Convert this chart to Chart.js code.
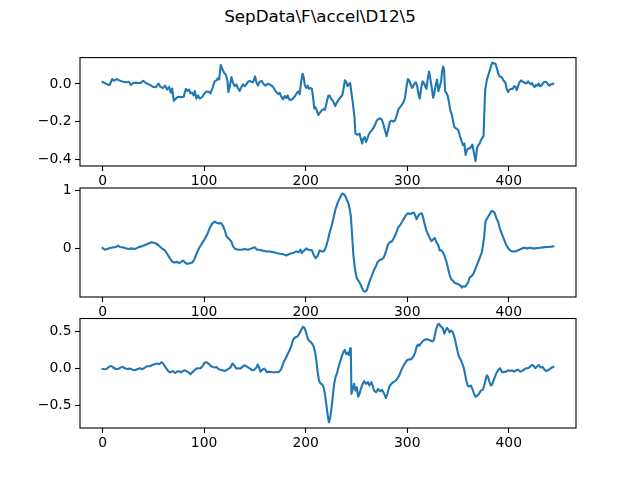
<!DOCTYPE html>
<html>
<head>
<meta charset="utf-8">
<script src="https://cdn.jsdelivr.net/npm/chart.js@4/dist/chart.umd.min.js"></script>
<style>
  body { margin: 0; background: #fff; }
  #wrap { position: relative; width: 640px; height: 480px; overflow: hidden; }
  #title {
    position: absolute; left: 0; top: 7px; width: 640px; text-align: center;
    font-family: 'DejaVu Sans', sans-serif; font-size: 16.7px; line-height: 19.4px; color: #000;
  }
  canvas { position: absolute; left: 0; }
</style>
</head>
<body>
<div id="wrap">
  <div id="title">SepData\F\accel\D12\5</div>
  <canvas id="c1" width="640" height="138" style="top:50px"></canvas>
  <canvas id="c2" width="640" height="139" style="top:180px"></canvas>
  <canvas id="c3" width="640" height="139" style="top:311px"></canvas>
</div>
<script>
// sample index / value pairs
const t1 = [0, 5.6, 7.2, 9.5, 11.5, 13.8, 16.4, 20.3, 23.6, 25.9, 27.9, 30.2, 32.8, 35.4, 37.4, 40, 42.6, 46.6, 49.8, 52.5,
  55.1, 57, 59.7, 61.6, 63.6, 65.6, 67.2, 68.5, 70.2, 72.1, 74.4, 77.7, 80, 82, 83.6, 85.2, 86.6, 88.2, 89.8, 90.8,
  92.5, 94.1, 95.7, 98.4, 100, 102.3, 104.9, 106.2, 108.2, 110.2, 112.1, 113.4, 114.8, 116.4, 118, 120, 121.3, 123, 123.9, 125.2,
  126.9, 128.5, 130.2, 131.8, 133.4, 135.1, 136.7, 138.4, 140, 141.6, 143.3, 144.9, 146.6, 148.2, 150.2, 151.5, 153.1, 154.8, 156.7, 158.7,
  160.7, 163, 165.2, 167.9, 169.8, 171.8, 173.1, 174.4, 175.7, 177.7, 179.3, 181, 182.3, 183.6, 185.6, 187.5, 189.5, 191.5, 192.8, 194.1,
  195.4, 197, 198, 199.3, 200.7, 202, 203.3,
  204.6, 206.2, 207.9, 208.5, 209.8, 211.1, 212.4, 213.8, 215.7, 217.7, 219, 220.3, 222.2, 223.6, 224.9, 226.8, 229.1, 230.7, 232.7, 234.7,
  236, 237.3, 238.6, 239.9, 241.2, 242.5, 243.8, 245.1, 246.4, 248.1, 249, 251, 253, 254.3, 255.6, 256.9, 258.2, 259.5, 260.8, 262.1,
  263.4, 265.1, 266.7, 268.3, 270, 271.6, 273.2, 274.9, 276.5, 278.1, 279.8, 281.4, 283, 284.7, 286.3, 287.9, 289.6, 291.2, 292.8, 294.5,
  296.1, 297.7, 299.4, 300.7, 302, 303.3, 304.9, 306.6, 308.5, 309.8, 311.5, 312.4, 313.8, 315.1, 316.4, 317.7, 319, 320.3, 321.6, 322.9,
  324.2, 325.5, 326.5, 327.8, 329.4, 330.7, 332.1, 333.4, 334.3, 335.3, 336.3, 337.3, 338.6, 339.9, 341.2, 342.5, 343.8, 345.1, 346.4, 347.7,
  349, 350.4, 351.7, 353.3, 354.9, 356.2, 357.5, 358.8, 360.2, 361.5, 362.8, 364.1, 365, 366, 367.3, 368.7, 370, 371.3, 372.6, 373.9,
  375.2, 375.8, 376.8, 378.5, 380.4, 382.4, 383.7, 385.3, 387, 388.3, 389.6, 390.9, 392.8, 394.8, 396.8, 398.1, 399.4, 400.7, 402.3, 403.9,
  405.3, 406.6, 407.9, 409.2, 410.5, 412.4, 413.7, 415, 416.4, 417.7, 419, 420.3, 421.6, 422.9, 424.2, 425.5, 426.8, 428.1, 429.4, 430.7,
  432.1, 433.4, 434.7, 436, 437.3, 438.6, 439.9, 441.2, 442.5, 443.8];
const v1 = [0.010, -0.005, -0.003, 0.026, 0.017, 0.026, 0.019, 0.012, 0.009, 0.012, -0.005, 0.005, 0.007, 0.005, 0.005, 0.017, 0.005, -0.005, -0.016, -0.017,
  0.002, -0.016, -0.021, -0.009, -0.030, -0.016, -0.047, -0.024, -0.090, -0.078, -0.068, -0.070, -0.068, -0.026, -0.037, -0.030, -0.050, -0.047, -0.061, -0.038,
  -0.078, -0.061, -0.078, -0.068, -0.052, -0.040, -0.042, -0.050, -0.023, 0.012, 0.019, 0.030, 0.023, 0.101, 0.078, 0.057, 0.050, 0.016, -0.043, -0.016,
  0.037, 0.005, -0.012, -0.003, -0.023, -0.037, -0.016, -0.002, -0.012, -0.002, 0.012, 0.016, 0.012, 0.009, 0.040, 0.009, -0.009, 0.012, 0.016, -0.002,
  -0.009, 0.002, -0.005, -0.016, -0.033, -0.047, -0.054, -0.047, -0.064, -0.082, -0.064, -0.075, -0.061, -0.082, -0.085, -0.078, -0.064, -0.047, -0.040, -0.054,
  0.005, 0.054, 0.037, -0.009, -0.021, -0.009, -0.026,
  -0.021, -0.026, -0.099, -0.130, -0.125, -0.143, -0.165, -0.155, -0.141, -0.134, -0.137, -0.108, -0.064, -0.061, -0.078, -0.090, -0.117, -0.099, -0.082, -0.068,
  -0.061, -0.026, 0.019, 0.012, -0.012, -0.002, 0.005, -0.047, -0.099, -0.177, -0.264, -0.270, -0.264, -0.290, -0.317, -0.290, -0.282, -0.308, -0.290, -0.270,
  -0.256, -0.247, -0.235, -0.217, -0.195, -0.186, -0.183, -0.190, -0.212, -0.247, -0.277, -0.238, -0.200, -0.195, -0.200, -0.195, -0.169, -0.137, -0.125, -0.113,
  -0.099, -0.078, -0.012, 0.026, 0.019, -0.003, -0.021, -0.003, 0.009, -0.012, -0.064, -0.078, -0.021, 0.014, 0.005, -0.012, -0.026, 0.031, 0.066, 0.023,
  -0.021, -0.073, -0.056, -0.012, 0.023, -0.038, -0.012, 0.014, 0.066, 0.092, 0.075, -0.038, -0.047, -0.064, -0.099, -0.143, -0.160, -0.195, -0.230, -0.235,
  -0.238, -0.247, -0.273, -0.299, -0.325, -0.317, -0.377, -0.351, -0.343, -0.343, -0.334, -0.322, -0.346, -0.374, -0.410, -0.343, -0.325, -0.317, -0.299, -0.287,
  -0.277, -0.169, -0.030, 0.023, 0.057, 0.092, 0.113, 0.110, 0.106, 0.083, 0.057, 0.040, 0.037, 0.019, 0.005, -0.030, -0.043, -0.030, -0.026, -0.026,
  -0.012, -0.016, -0.033, -0.012, 0.009, 0.019, 0.012, 0.009, 0.002, 0.005, 0.014, 0.005, -0.002, 0.005, -0.009, -0.016, -0.005, -0.009, 0.002, -0.012,
  -0.009, 0.002, 0.009, 0.012, 0.009, -0.002, -0.009, -0.002, -0.002, 0.002];

const t2 = [0, 2.3, 4.6, 7.2, 10.5, 13.1, 15.4, 17, 19.7, 22, 25.2, 28.5, 31.8, 35.1, 38.4, 41.6, 44.9, 48.2, 51.5, 54.8,
  58, 61.3, 63.6, 66.2, 68.9, 71.1, 73.4, 75.4, 77.4, 79.3, 81.3, 83.3, 85.9, 88.5, 90.5, 92.5, 95.1, 97.7, 100.3, 103,
  105.6, 108.2, 110.5, 112.1, 114.1, 116.7, 118.7, 120.7, 122, 123.6, 125.2, 126.9, 128.5, 130.5, 133.4, 136.7, 140, 143.3, 146.6, 149.8,
  152.1, 154.8, 158, 161.3, 164.6, 167.9, 171.1, 174.4, 177.7, 181, 184.3, 187.5, 190.8, 192.8, 194.8, 196.1, 198, 200.7, 202.6,
  206.2, 207.9, 209.8, 211.8, 213.8, 215.7, 217.7, 219.6, 221.6, 223.6, 225.5, 227.5, 229.4, 231.4, 234, 236, 237.3, 238.9, 240.5, 241.9,
  243.2, 244.5, 245.8, 247.1, 248.7, 250.4, 252, 253.6, 255.3, 256.9, 258.5, 260.2, 261.8, 263.4, 265.4, 267.3, 269.3, 271.2, 273.2, 275.2,
  277.1, 279.1, 281, 283, 285, 286.9, 288.9, 290.9, 292.8, 294.8, 296.7, 298.7, 300.7, 302.6, 304.6, 306.5, 307.8, 309.2, 310.8, 312.4,
  314.4, 315.7, 317.3, 319, 320.6, 322.2, 323.9, 325.5, 327.1, 328.8, 330.4, 332, 333.7, 335.3, 336.9, 338.6, 340.2, 341.8, 343.5, 345.1,
  346.7, 348.4, 350.4, 352.3, 353.6, 354.9, 356.9, 358.2, 360.2, 361.5, 363.4, 365.4, 367.3, 369.3, 371.3, 373.2, 374.5, 375.8, 377.1, 379.1,
  381.1, 383, 384.3, 386, 387.6, 389.6, 391.5, 393.5, 395.4, 397.4, 399.4, 401.3, 403.3, 405.6, 407.9, 410.5, 413.1, 415.7, 418.3, 421,
  423.6, 426.2, 428.8, 431.4, 434, 436.6, 439.2, 441.9, 443.8];
const v2 = [0, -0.029, -0.018, 0, 0.012, 0.018, 0.041, 0.018, 0.012, 0, -0.018, -0.006, -0.018, 0.012, 0.029, 0.053, 0.076, 0.100, 0.088, 0.053,
  0, -0.041, -0.100, -0.176, -0.241, -0.253, -0.241, -0.265, -0.241, -0.218, -0.253, -0.276, -0.265, -0.253, -0.194, -0.100, 0, 0.076, 0.147, 0.235,
  0.353, 0.429, 0.459, 0.441, 0.429, 0.435, 0.382, 0.294, 0.206, 0.176, 0.147, 0.112, 0.029, -0.012, -0.029, -0.029, -0.018, -0.029, -0.006, 0.012,
  -0.029, -0.029, -0.047, -0.059, -0.059, -0.071, -0.088, -0.100, -0.106, -0.129, -0.100, -0.088, -0.059, -0.076, -0.029, -0.088, -0.053, -0.006, -0.029,
  -0.041, -0.118, -0.176, -0.135, -0.041, -0.059, -0.059, 0, 0.118, 0.265, 0.382, 0.529, 0.676, 0.782, 0.882, 0.950, 0.940, 0.912, 0.841, 0.794,
  0.688, 0.559, 0.206, -0.147, -0.382, -0.529, -0.571, -0.618, -0.688, -0.747, -0.760, -0.735, -0.647, -0.559, -0.471, -0.382, -0.312, -0.235, -0.206, -0.194,
  -0.159, -0.059, 0.059, 0.100, 0.118, 0.176, 0.253, 0.353, 0.394, 0.453, 0.512, 0.571, 0.606, 0.594, 0.606, 0.618, 0.571, 0.500, 0.559, 0.594,
  0.606, 0.529, 0.412, 0.294, 0.235, 0.176, 0.118, 0.147, 0.176, 0.100, 0.059, -0.041, -0.041, -0.076, -0.147, -0.235, -0.353, -0.471, -0.547, -0.571,
  -0.606, -0.618, -0.629, -0.653, -0.688, -0.665, -0.676, -0.647, -0.588, -0.512, -0.488, -0.441, -0.353, -0.265, -0.176, -0.088, 0.029, 0.206, 0.471, 0.529,
  0.588, 0.647, 0.641, 0.618, 0.529, 0.453, 0.324, 0.235, 0.147, 0.059, 0, -0.041, -0.059, -0.059, -0.047, -0.029, -0.006, 0.006, -0.006, 0.006,
  -0.006, -0.006, 0, 0.006, 0.012, 0.018, 0.018, 0.024, 0.029];

const t3 = [0, 2.3, 3.9, 5.6, 7.2, 8.9, 10.5, 13.1, 15.4, 17.7, 19.7, 22, 24.3, 26.9, 29.5, 31.8, 34.1, 36.7, 39.3, 41.6,
  43.9, 46.6, 49.2, 51.5, 53.8, 55.7, 58, 59.7, 61.3, 63, 64.6, 66.2, 67.9, 69.5, 71.5, 73.4, 75.4, 77.4, 79.3, 81.3,
  83.3, 84.6, 86.6, 88.5, 90.5, 92.5, 94.4, 96.4, 98.4, 100.3, 102.3, 104.3, 106.2, 108.2, 110.2, 112.1, 114.1, 116.1, 118, 120,
  122, 123.9, 125.9, 127.9, 129.8, 131.8, 133.8, 135.7, 137.7, 139.7, 141.6, 143.6, 145.6, 147.5, 149.5, 151.5, 152.8, 154.1, 155.4, 156.7,
  158, 159.3, 160.7, 162, 163.9, 165.9, 167.9, 169.8, 171.8, 173.8, 175.7, 177, 178.4, 180.3, 182.3, 184.3, 186.2, 187.5, 189.2, 190.8,
  192.5, 194.1, 195.7, 197.4, 198.7, 200, 201.3, 202.6,
  206.2, 207.9, 209.2, 210.5, 211.8, 213.1, 214.4, 216.4, 217.7, 219, 220.3, 221.6, 222.9, 224.2, 225.5, 226.8, 228.1, 229.4, 230.7, 232,
  233.4, 234.7, 236, 237.3, 238.6, 239.9, 241.2, 242.5, 243.8, 244.5, 245.1, 246.4, 247.7, 249, 250.4, 251.7, 253, 254.3, 256.2, 257.5,
  259.5, 261.5, 262.8, 264.7, 266, 267.3, 269.3, 271.3, 273.2, 275.2, 277.1, 279.1, 280.4, 282.4, 284.3, 286.3, 288.2, 290.2, 292.2, 294.1,
  296.1, 298, 300, 302, 303.9, 305.9, 307.8, 309.2, 310.5, 311.8, 313.7, 315, 317, 319, 320.9, 322.9, 324.8, 326.1, 327.5, 328.8,
  330.1, 331.4, 332.7, 334, 335.3, 336.6, 337.9, 339.2, 340.5, 341.8, 343.1, 344.4, 345.8, 347.1, 348.4, 349.7, 351, 352.9, 354.2, 355.6,
  356.9, 358.2, 359.5, 360.8, 362.7, 364.1, 366, 367.3, 368.6, 370.6, 372.5, 374.5, 375.8, 377.1, 378.4, 379.7, 381, 382.4, 383.7, 385,
  386.3, 387.6, 389.5, 391.5, 393.5, 395.4, 397.4, 399.4, 401.3, 403.3, 405.3, 407.2, 409.2, 411.1, 413.1, 415, 417, 419, 420.9, 422.9,
  424.8, 426.1, 427.5, 429.4, 431.4, 433.3, 434.6, 436.6, 438.6, 440.5, 442.5, 443.8];
const v3 = [-0.005, -0.009, -0.005, 0.014, 0.032, 0.032, 0.014, -0.005, -0.005, 0.014, 0.023, 0.005, -0.005, 0, -0.014, -0.023, -0.009, 0.005, -0.009, 0.014,
  0.032, 0.032, 0.050, 0.059, 0.068, 0.059, 0.086, 0.068, 0.032, 0, -0.032, -0.050, -0.041, -0.036, -0.059, -0.041, -0.036, -0.050, -0.032, -0.023,
  -0.041, -0.050, -0.077, -0.050, -0.023, 0, 0.005, 0.005, 0.032, 0.077, 0.086, 0.068, 0.041, 0.023, 0.014, 0.023, -0.005, -0.014, -0.023, -0.032,
  -0.023, -0.005, 0.014, 0.068, 0.041, 0, 0.005, 0, 0.023, 0.045, 0.032, 0.014, -0.005, -0.023, -0.014, 0.014, 0.055, 0.014, -0.041, -0.023,
  -0.009, 0, -0.023, -0.050, -0.041, -0.045, -0.050, -0.050, -0.050, -0.041, -0.014, 0.032, 0.091, 0.136, 0.195, 0.250, 0.314, 0.386, 0.414, 0.423,
  0.441, 0.477, 0.523, 0.559, 0.550, 0.505, 0.441, 0.386,
  0.341, 0.295, 0.227, 0.114, -0.045, -0.159, -0.195, -0.214, -0.250, -0.341, -0.477, -0.614, -0.720, -0.659, -0.523, -0.364, -0.205, -0.114, -0.068, 0,
  0.068, 0.123, 0.182, 0.227, 0.250, 0.195, 0.214, 0.182, 0.273, 0.205, -0.341, -0.273, -0.205, -0.295, -0.250, -0.377, -0.341, -0.273, -0.205, -0.168,
  -0.205, -0.182, -0.227, -0.182, -0.227, -0.295, -0.318, -0.273, -0.305, -0.286, -0.332, -0.395, -0.341, -0.241, -0.205, -0.182, -0.168, -0.136, -0.091, -0.023,
  0.032, 0.077, 0.114, 0.123, 0.123, 0.159, 0.214, 0.286, 0.323, 0.305, 0.341, 0.364, 0.386, 0.395, 0.386, 0.377, 0.364, 0.377, 0.468, 0.545,
  0.591, 0.600, 0.568, 0.559, 0.532, 0.468, 0.509, 0.545, 0.523, 0.486, 0.509, 0.500, 0.455, 0.386, 0.305, 0.227, 0.159, 0.114, 0.068, 0.014,
  -0.068, -0.159, -0.227, -0.241, -0.227, -0.273, -0.341, -0.377, -0.368, -0.341, -0.295, -0.282, -0.227, -0.159, -0.091, -0.114, -0.182, -0.227, -0.214, -0.159,
  -0.114, -0.068, -0.023, 0.005, -0.050, -0.045, -0.041, -0.023, -0.032, -0.023, -0.041, -0.023, -0.014, -0.041, -0.032, -0.014, 0.005, 0.005, 0.023, 0.050,
  0.032, 0.005, 0.023, 0.050, 0.014, 0.023, -0.005, -0.032, -0.023, -0.005, 0.014, 0.023];

const xTicks = [0, 100, 200, 300, 400];
const yTicks1 = [-0.4, -0.2, 0.0];
const yTicks2 = [0, 1];
const yTicks3 = [-0.5, 0.0, 0.5];

Chart.defaults.font.family = "'DejaVu Sans', sans-serif";
Chart.defaults.font.size = 13.9;
Chart.defaults.color = '#000';

// full box around the plot area, like matplotlib spines
const boxPlugin = {
  id: 'box',
  afterDatasetsDraw(chart) {
    const a = chart.chartArea;
    const ctx = chart.ctx;
    ctx.save();
    ctx.strokeStyle = '#000';
    ctx.lineWidth = 1.1;
    ctx.strokeRect(a.left, a.top, a.right - a.left, a.bottom - a.top);
    ctx.restore();
  }
};

function fmt(v, digits) {
  const s = Math.abs(v).toFixed(digits);
  return v < 0 ? '\u2212' + s : s;
}

function makePanel(id, xs, ys, yMin, yMax, yTicks, digits, padTop) {
  const ctx = document.getElementById(id).getContext('2d');
  return new Chart(ctx, {
    type: 'line',
    data: {
      datasets: [{
        data: xs.map((x, i) => ({ x: x, y: ys[i] })),
        borderColor: '#1f77b4',
        borderWidth: 2.1,
        borderJoinStyle: 'round',
        borderCapStyle: 'square',
        pointRadius: 0,
        tension: 0,
        fill: false
      }]
    },
    options: {
      responsive: false,
      animation: false,
      layout: { padding: { top: padTop, right: 64, left: 0, bottom: 0 } },
      plugins: { legend: { display: false }, tooltip: { enabled: false } },
      scales: {
        x: {
          type: 'linear',
          min: -22.2,
          max: 466.2,
          afterBuildTicks: s => { s.ticks = xTicks.map(v => ({ value: v })); },
          afterFit: s => { s.height = 22; s.paddingLeft = 0; s.paddingRight = 0; },
          grid: { drawOnChartArea: false, drawTicks: true, tickLength: 5, tickColor: '#000', tickWidth: 1.1 },
          border: { display: false },
          ticks: { padding: 2, maxRotation: 0, callback: v => String(v) }
        },
        y: {
          type: 'linear',
          min: yMin,
          max: yMax,
          afterBuildTicks: s => { s.ticks = yTicks.map(v => ({ value: v })); },
          // fixed label gutter and no extra room for edge labels
          afterFit: s => { s.width = 80; s.paddingTop = 0; s.paddingBottom = 0; },
          grid: { drawOnChartArea: false, drawTicks: true, tickLength: 5, tickColor: '#000', tickWidth: 1.1 },
          border: { display: false },
          ticks: { padding: 3.5, callback: v => fmt(v, digits) }
        }
      }
    },
    plugins: [boxPlugin]
  });
}

makePanel('c1', t1, v1, -0.436, 0.140, yTicks1, 1, 7.6);
makePanel('c2', t2, v2, -0.853, 1.046, yTicks2, 0, 8);
makePanel('c3', t3, v3, -0.797, 0.672, yTicks3, 1, 7.5);
</script>
</body>
</html>
